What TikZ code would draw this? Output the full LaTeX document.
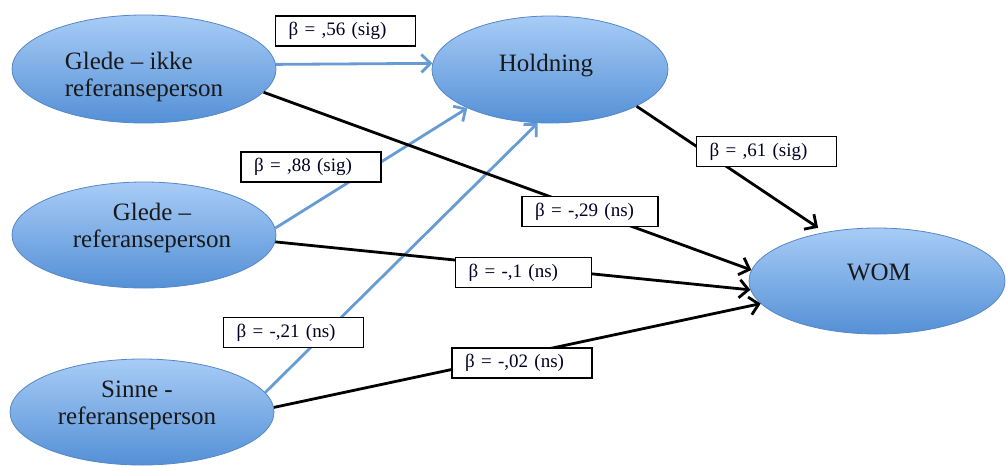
\documentclass[tikz,border=0pt]{standalone}
\usepackage{fontspec}
\setmainfont{Liberation Serif}
\usetikzlibrary{shapes.geometric,arrows.meta}
\definecolor{ellTop}{RGB}{168,204,246}
\definecolor{ellBot}{RGB}{84,144,214}
\definecolor{ellLine}{RGB}{86,135,200}
\definecolor{bluLine}{RGB}{103,155,212}
\tikzset{
  ell/.style={ellipse, draw=ellLine, line width=0.8pt, top color=ellTop, bottom color=ellBot, inner sep=0pt},
  etext/.style={font=\fontsize{25}{27}\selectfont, inner sep=0pt, text=black!90},
  lbl/.style={draw=black, line width=1.2pt, fill=white, minimum height=30pt, inner xsep=13pt, inner ysep=0pt, align=left, text width=114pt, font=\fontsize{19}{21}\selectfont, text=black!85!blue},
  lbls/.style={lbl, text width=110pt},
  barb/.tip={Straight Barb[length=9pt,width=18pt]},
  bluarrow/.style={draw=bluLine, line width=2.8pt, -barb},
  blkarrow/.style={draw=black, line width=2.8pt, -barb}
}
\begin{document}
\begin{tikzpicture}[x=1pt,y=-1pt]
\useasboundingbox (0,0) rectangle (1006,466);
% ellipses
\node[ell, minimum width=264pt, minimum height=108pt] (e1) at (144,69) {};
\node[ell, minimum width=236pt, minimum height=107pt] (hold) at (550,69.5) {};
\node[ell, minimum width=264pt, minimum height=106pt] (e2) at (144,235) {};
\node[ell, minimum width=264pt, minimum height=106pt] (e3) at (142,412) {};
\node[ell, minimum width=256pt, minimum height=106pt] (wom) at (877,281) {};
% texts
\node[etext, align=left] (e1t) at (144,77) {Glede – ikke\\referanseperson};
\node[etext] (holdt) at (546,66) {Holdning};
\node[etext, align=center] (e2t) at (152,228) {Glede –\\referanseperson};
\node[etext, align=center] (e3t) at (137,405) {Sinne -\\referanseperson};
\node[etext] (womt) at (879,272) {WOM};
% connectors
\draw[bluarrow] (e1.2.5) -- (hold.177);
\draw[bluarrow] (e2.3) -- (hold.205);
\draw[bluarrow] (e3.9.5) -- (hold.257);
\draw[blkarrow] (e1.-11) -- (wom.175);
\draw[blkarrow] (e2.-3.5) -- (wom.184);
\draw[blkarrow] (e3.2) -- (wom.191);
\draw[blkarrow, shorten >=8pt] (hold.-23) -- (wom.137);
% labels
\node[lbl] (l56) at (345.5,31) {β = ,56 (sig)};
\node[lbl] (l88) at (311,167) {β = ,88 (sig)};
\node[lbl] (l61) at (766.5,151.5) {β = ,61 (sig)};
\node[lbls] (l29) at (590,211.5) {β = -,29 (ns)};
\node[lbls] (l1) at (523.5,272.5) {β = -,1 (ns)};
\node[lbl] (l21) at (293.5,332.5) {β = -,21 (ns)};
\node[lbl] (l02) at (522,363) {β = -,02 (ns)};
\end{tikzpicture}
\end{document}
